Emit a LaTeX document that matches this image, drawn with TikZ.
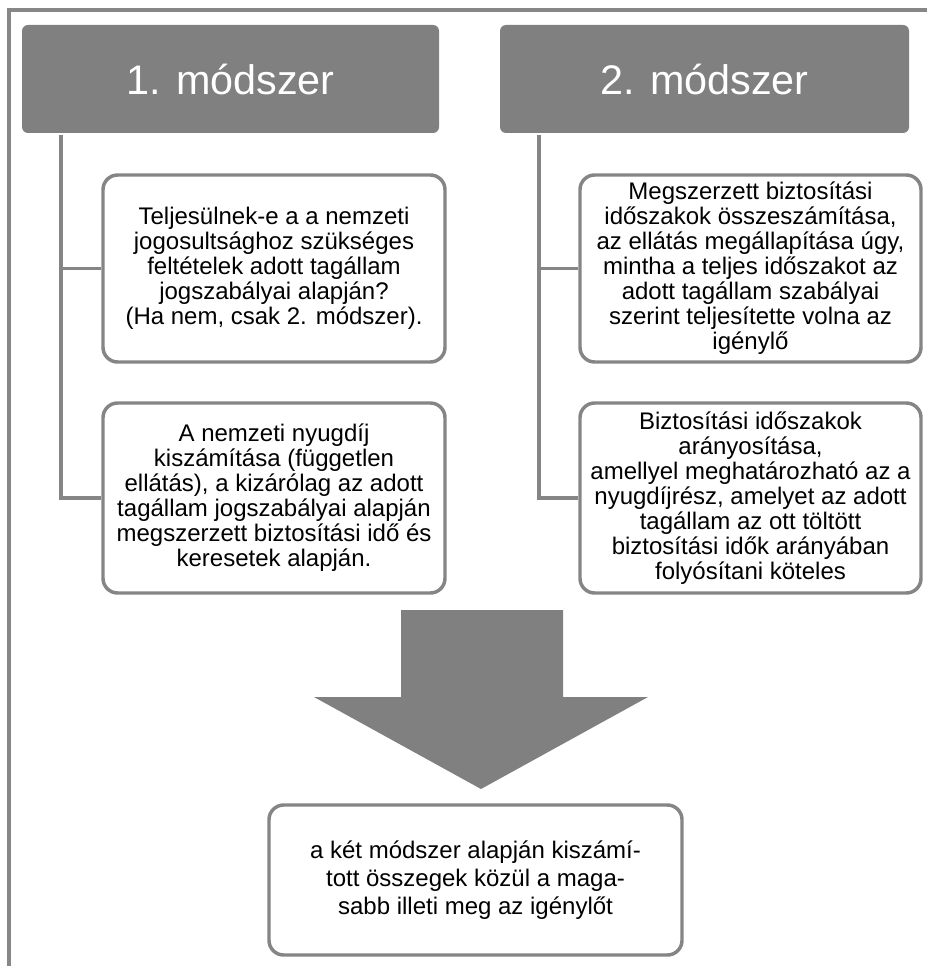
\documentclass[tikz,border=0pt]{standalone}
\usepackage{fontspec}
\setmainfont{Liberation Sans}
\begin{document}
\begin{tikzpicture}[x=0.75pt,y=-0.75pt,
  frame/.style={draw=black!47,line width=2.6pt},
  header/.style={fill=black!50,draw=none,rounded corners=4.5pt,text=white,
     font=\fontsize{31}{36}\selectfont,inner sep=0pt},
  textbox/.style={draw=black!48,line width=2.6pt,fill=white,rounded corners=11pt,
     align=center,font=\fontsize{18}{18.75}\selectfont,inner sep=0pt},
  conn/.style={draw=black!48,line width=2.4pt},
  bigarrow/.style={fill=black!50,draw=none}]
\useasboundingbox (0,0) rectangle (927,966);
% outer frame
\draw[frame] (9,966) -- (9,10) -- (927,10);
% headers
\node[header,minimum width=417*0.75pt,minimum height=108*0.75pt] (h1) at (230.5,79) {1. módszer};
\node[header,minimum width=409*0.75pt,minimum height=108*0.75pt] (h2) at (704.5,79) {2. módszer};
% boxes
\node[textbox,minimum width=342*0.75pt,minimum height=187*0.75pt] (b1a) at (274,268.5)
  {Teljesülnek-e a a nemzeti\\jogosultsághoz szükséges\\feltételek adott tagállam\\jogszabályai alapján?\\(Ha nem, csak 2. módszer).};
\node[textbox,minimum width=342*0.75pt,minimum height=190*0.75pt] (b1b) at (274,498)
  {A nemzeti nyugdíj\\kiszámítása (független\\ellátás), a kizárólag az adott\\tagállam jogszabályai alapján\\megszerzett biztosítási idő és\\keresetek alapján.};
\node[textbox,minimum width=341*0.75pt,minimum height=187*0.75pt] (b2a) at (750.5,268.5)
  {Megszerzett biztosítási\\időszakok összeszámítása,\\az ellátás megállapítása úgy,\\mintha a teljes időszakot az\\adott tagállam szabályai\\szerint teljesítette volna az\\igénylő};
\node[textbox,minimum width=341*0.75pt,minimum height=190*0.75pt] (b2b) at (750.5,498)
  {Biztosítási időszakok\\arányosítása,\\amellyel meghatározható az a\\nyugdíjrész, amelyet az adott\\tagállam az ott töltött\\biztosítási idők arányában\\folyósítani köteles};
% connectors
\coordinate (v1) at (61,135);
\coordinate (v2) at (539,135);
\draw[conn] (v1) |- (b1a.west);
\draw[conn] (v1) |- (b1b.west);
\draw[conn] (v2) |- (b2a.west);
\draw[conn] (v2) |- (b2b.west);
% big arrow
\fill[bigarrow] (401,610) -- (563,610) -- (563,697) -- (648,697) -- (481,789) -- (314,697) -- (401,697) -- cycle;
% result box
\node[textbox,font=\fontsize{18}{21}\selectfont,minimum width=413*0.75pt,minimum height=150*0.75pt] (res) at (475.5,880)
  {a két módszer alapján kiszámí-\\tott összegek közül a maga-\\sabb illeti meg az igénylőt};
\end{tikzpicture}
\end{document}
